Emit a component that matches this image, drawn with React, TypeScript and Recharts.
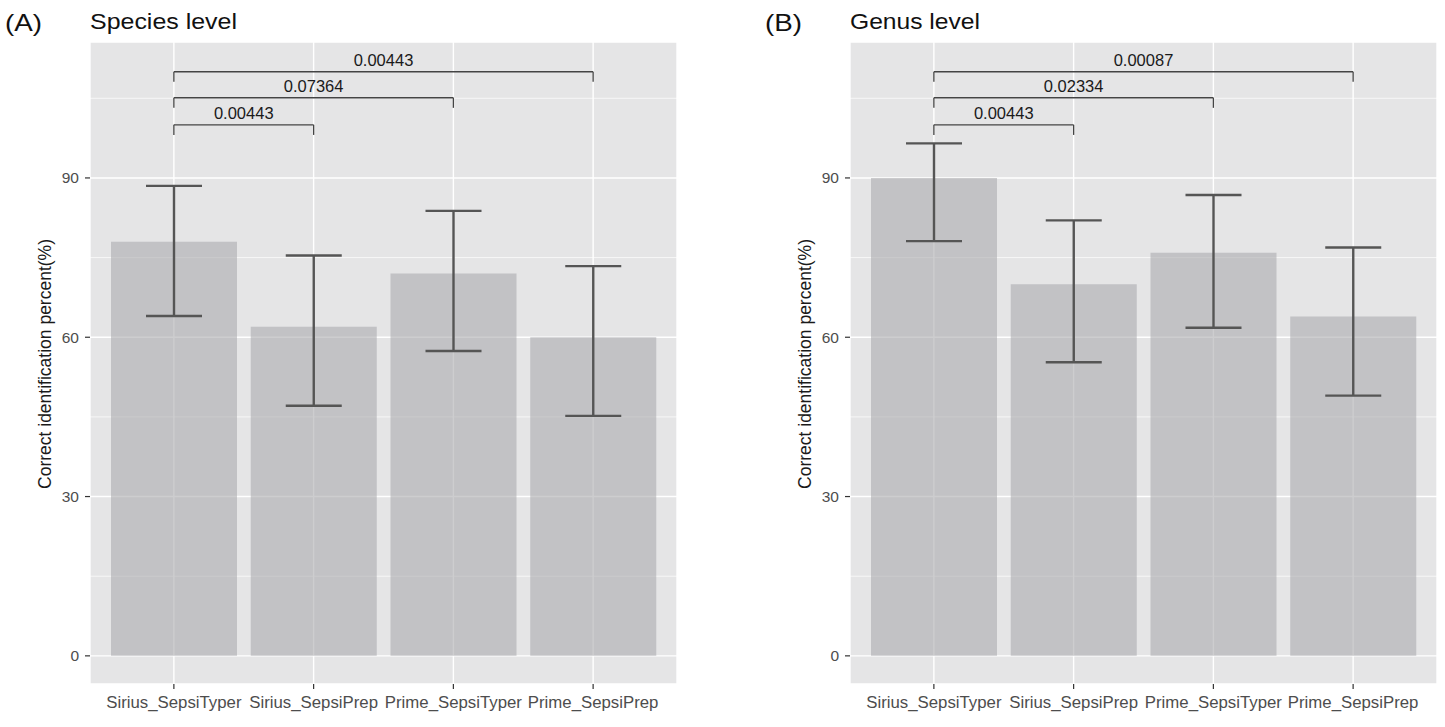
import React from 'react';
import { Bar, CartesianGrid, ComposedChart, ErrorBar, ReferenceLine, XAxis, YAxis } from 'recharts';

const categories = ['Sirius_SepsiTyper', 'Sirius_SepsiPrep', 'Prime_SepsiTyper', 'Prime_SepsiPrep'];

const speciesMean = [78, 62, 72, 60];
const speciesLow = [64, 47.1, 57.4, 45.2];
const speciesHigh = [88.5, 75.4, 83.8, 73.4];

const genusMean = [90, 70, 75.9, 63.9];
const genusLow = [78.1, 55.3, 61.8, 49];
const genusHigh = [96.5, 82, 86.8, 76.9];

// pairwise comparisons, all against the first category
const bracketTargets = ['Sirius_SepsiPrep', 'Prime_SepsiTyper', 'Prime_SepsiPrep'];
const bracketLevels = [100, 105.1, 110];
const speciesP = ['0.00443', '0.07364', '0.00443'];
const genusP = ['0.00443', '0.02334', '0.00087'];

const yTicks = [0, 30, 60, 90];
const yMinor = [15, 45, 75, 105];

const font = '"Liberation Sans", Arial, sans-serif';

function buildRows(mean: number[], low: number[], high: number[]) {
  return categories.map((name, i) => ({
    name,
    value: mean[i],
    err: [mean[i] - low[i], high[i] - mean[i]],
  }));
}

function Panel({ tag, title, titleLen, rows, pvals, left }: {
  tag: string; title: string; titleLen: number; rows: any[]; pvals: string[]; left: number;
}) {
  return (
    <div style={{ position: 'absolute', left, top: 0, width: 760, height: 727 }}>
      <ComposedChart
        width={760}
        height={727}
        data={rows}
        margin={{ top: 42, right: 83, bottom: 7, left: 50 }}
        style={{ fontFamily: font }}
      >
        <CartesianGrid fill="#e5e5e6" stroke="#ffffff" strokeWidth={0.7} vertical={false} horizontalValues={yMinor} />
        <CartesianGrid stroke="#ffffff" strokeWidth={1.4} />
        <XAxis
          dataKey="name"
          type="category"
          height={36}
          padding={{ left: 14, right: 14 }}
          axisLine={false}
          tickLine={{ stroke: '#333333', strokeWidth: 1.2 }}
          tickSize={5}
          tickMargin={7}
          interval={0}
          tick={{ fill: '#4d4d4d', fontSize: 16.8, fontFamily: font }}
        />
        <YAxis
          type="number"
          width={40}
          domain={[-5.3, 115.6]}
          allowDataOverflow
          ticks={yTicks}
          axisLine={false}
          tickLine={{ stroke: '#333333', strokeWidth: 1.2 }}
          tickSize={5}
          tickMargin={6}
          tick={{ fill: '#4d4d4d', fontSize: 15.5, fontFamily: font }}
        />
        <Bar dataKey="value" barSize={126} fill="#a9a9ad" fillOpacity={0.58} isAnimationActive={false}>
          <ErrorBar dataKey="err" direction="y" width={28} stroke="#555555" strokeWidth={2.4} />
        </Bar>
        {bracketTargets.map((target, i) => (
          <ReferenceLine
            key={`h-${i}`}
            segment={[{ x: categories[0], y: bracketLevels[i] }, { x: target, y: bracketLevels[i] }]}
            stroke="#444444"
            strokeWidth={1.3}
            label={{ value: pvals[i], position: 'top', offset: 6, fill: '#1a1a1a', fontSize: 16.5, fontFamily: font }}
          />
        ))}
        {bracketTargets.map((target, i) => (
          <ReferenceLine
            key={`l-${i}`}
            segment={[{ x: categories[0], y: bracketLevels[i] }, { x: categories[0], y: bracketLevels[i] - 1.9 }]}
            stroke="#444444"
            strokeWidth={1.3}
          />
        ))}
        {bracketTargets.map((target, i) => (
          <ReferenceLine
            key={`r-${i}`}
            segment={[{ x: target, y: bracketLevels[i] }, { x: target, y: bracketLevels[i] - 1.9 }]}
            stroke="#444444"
            strokeWidth={1.3}
          />
        ))}
      </ComposedChart>
      <svg width={760} height={727} style={{ position: 'absolute', left: 0, top: 0, pointerEvents: 'none' }}>
        <text x={5} y={31} fontSize={24} fontFamily={font} fill="#111111" textLength={37} lengthAdjust="spacingAndGlyphs">
          {tag}
        </text>
        <text x={90} y={29} fontSize={22} fontFamily={font} fill="#111111" textLength={titleLen} lengthAdjust="spacingAndGlyphs">
          {title}
        </text>
        <text transform="translate(51,364) rotate(-90)" textAnchor="middle" fontSize={17.5} fontFamily={font} fill="#1a1a1a">
          Correct identification percent(%)
        </text>
      </svg>
    </div>
  );
}

export default function App() {
  const speciesRows = buildRows(speciesMean, speciesLow, speciesHigh);
  const genusRows = buildRows(genusMean, genusLow, genusHigh);
  return (
    <div style={{ position: 'absolute', left: 0, top: 0, width: 1445, height: 727, background: '#ffffff', overflow: 'hidden' }}>
      <Panel tag="(A)" title="Species level" titleLen={147} rows={speciesRows} pvals={speciesP} left={0} />
      <Panel tag="(B)" title="Genus level" titleLen={130} rows={genusRows} pvals={genusP} left={760} />
    </div>
  );
}
